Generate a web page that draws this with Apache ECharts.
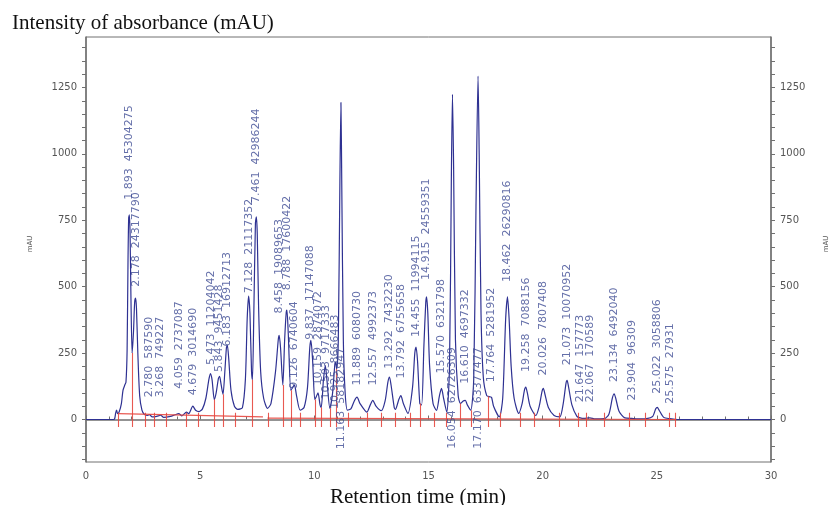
<!DOCTYPE html>
<html>
<head>
<meta charset="utf-8">
<script src="https://cdn.jsdelivr.net/npm/echarts@6/dist/echarts.min.js"></script>
<style>
html,body{margin:0;padding:0;background:#fff;}
#chart{width:831px;height:505px;}
</style>
</head>
<body>
<div id="chart"></div>
<script>
// ---- Data ----
const xTicks = [0, 5, 10, 15, 20, 25, 30];
const yTickLabels = [0, 250, 500, 750, 1000, 1250];
const yMinorTicks = [-150,-100,-50,0,50,100,150,200,250,300,350,400,450,500,550,600,650,700,750,800,850,900,950,1000,1050,1100,1150,1200,1250,1300,1350,1400];

// detector trace (retention time in min, absorbance in mAU)
const traceTime = [0,1.15,1.25,1.3,1.34,1.38,1.45,1.55,1.62,1.7,1.75,1.8,1.84,1.87,1.9,1.93,1.97,2.02,2.08,2.13,2.17,2.21,2.27,2.35,2.45,2.55,2.7,2.78,2.9,3.1,3.27,3.4,3.7,3.9,4.06,4.2,4.4,4.5,4.68,4.8,4.95,5.1,5.25,5.38,5.45,5.52,5.62,5.7,5.8,5.85,5.92,6.0,6.08,6.15,6.19,6.25,6.35,6.5,6.65,6.85,6.98,7.06,7.12,7.18,7.25,7.29,7.35,7.42,7.46,7.5,7.56,7.65,7.78,7.95,8.1,8.3,8.42,8.46,8.52,8.62,8.7,8.77,8.8,8.86,8.97,9.05,9.13,9.22,9.38,9.55,9.7,9.8,9.85,9.92,10.02,10.08,10.16,10.25,10.3,10.4,10.48,10.55,10.68,10.8,10.9,10.93,10.98,11.05,11.12,11.165,11.2,11.27,11.35,11.45,11.6,11.75,11.87,12.0,12.3,12.45,12.56,12.7,12.93,13.1,13.22,13.29,13.36,13.5,13.55,13.7,13.79,13.9,14.1,14.3,14.4,14.455,14.52,14.62,14.7,14.8,14.88,14.915,14.97,15.05,15.2,15.35,15.48,15.57,15.66,15.8,15.92,16.0,16.05,16.1,16.18,16.3,16.4,16.52,16.61,16.7,16.85,16.98,17.08,17.17,17.22,17.3,17.4,17.55,17.7,17.76,17.85,18.1,18.25,18.38,18.46,18.53,18.62,18.75,18.95,19.1,19.2,19.26,19.33,19.45,19.7,19.85,19.97,20.03,20.1,20.25,20.5,20.75,20.9,21.02,21.07,21.13,21.28,21.5,21.65,21.8,22.07,22.3,22.7,22.9,23.05,23.13,23.2,23.35,23.6,23.9,24.3,24.8,24.95,25.02,25.1,25.3,25.57,25.8,26,30];
const traceMAU  = [0,0,2,25,35,22,28,60,110,130,140,260,600,760,770,700,450,250,330,440,457,420,250,90,35,20,15,18,10,12,16,8,12,18,22,14,28,22,50,35,30,40,80,150,173,150,75,100,155,162,130,95,180,270,280,230,110,50,38,45,150,380,465,400,180,150,400,740,763,700,420,180,80,42,60,180,300,317,270,130,300,405,412,320,110,120,130,90,35,45,120,270,298,230,75,85,100,55,45,150,204,150,42,100,210,216,190,300,900,1193,900,300,100,35,40,70,84,60,28,55,72,50,33,70,140,160,130,45,38,75,90,60,23,120,250,273,220,60,55,280,440,462,400,200,60,34,90,117,80,28,200,900,1224,950,300,90,60,70,72,55,35,150,800,1293,1000,400,160,90,85,84,50,10,80,380,462,380,200,80,23,60,110,122,100,50,15,50,105,117,95,45,15,10,60,135,147,125,55,12,6,4,6,2,3,20,80,97,80,30,6,4,2,10,40,46,35,8,3,1,0,0];

// integrated peaks
const peakTimes = ['1.893','2.178','2.780','3.268','4.059','4.679','5.473','5.843','6.183','7.128','7.461','8.458','8.788','9.126','9.837','10.159','10.503','10.925','11.163','11.889','12.557','13.292','13.792','14.455','14.915','15.570','16.054','16.610','17.170','17.764','18.462','19.258','20.026','21.073','21.647','22.067','23.134','23.904','25.022','25.575'];
const peakAreas = ['45304275','24317790','587590','749227','2737087','3014690','11204042','9451428','16912713','21117352','42986244','19089653','17600422','6740604','17147088','2874072','9717333','8666483','58182947','6080730','4992373','7432230','6755658','11994115','24559351','6321798','62726309','4697332','63377477','5281952','26290816','7088156','7807408','10070952','157773','170589','6492040','96309','3058806','27931'];
// absorbance level (mAU) where each peak label begins
const labelStart = [827,500,84,84,116,91,205,179,275,475,815,399,487,116,300,128,75,40,-112,128,128,191,154,311,525,173,-110,135,-110,140,518,179,166,204,65,65,141,72,97,59];

// integration marks (red): short boundary ticks and drop lines up to valleys
const boundaryTimes = [1.42,2.6,2.97,3.5,4.37,4.9,6.55,7.98,9.4,11.5,12.32,12.93,13.55,14.2,15.26,15.78,18.14,19.0,19.65,20.72,21.58,21.89,22.68,23.79,24.49,25.54,25.82];
const dropTimes   = [2.02,5.62,6.0,7.29,8.62,8.97,10.02,10.3,10.68,10.98,14.62,16.4,16.88,17.6];
const dropHeights = [250,75,95,150,130,110,75,45,42,190,60,60,35,88];
const baselineFrom = [[1.42,22],[7.95,5]];
const baselineTo   = [[7.75,10],[25.85,0]];

// ---- Chart ----
const TRACE = '#2e3192';
const RED = '#e5473f';
const LABEL = '#3d4b94';
const AXIS = '#707070';

const traceData = traceTime.map((t, i) => [t, traceMAU[i]]);
const labelData = peakTimes.map((t, i) => ({
  value: [parseFloat(t), labelStart[i]],
  name: t + '  ' + peakAreas[i]
}));
const redLines = [];
boundaryTimes.forEach(t => redLines.push({coords: [[t, -28], [t, 25]]}));
dropTimes.forEach((t, i) => redLines.push({coords: [[t, -28], [t, dropHeights[i]]]}));
baselineFrom.forEach((p, i) => redLines.push({coords: [p, baselineTo[i]]}));

const yAxisBase = (pos) => ({
  type: 'value', position: pos, min: -160, max: 1440,
  axisLine: {show: true, lineStyle: {color: AXIS, width: 1.5}},
  axisTick: {show: true, inside: false, length: 4, customValues: yMinorTicks, lineStyle: {color: AXIS}},
  axisLabel: {show: true, customValues: yTickLabels, formatter: v => String(v), color: '#555', fontSize: 10, fontFamily: 'DejaVu Sans', margin: 9},
  splitLine: {show: false}
});

const chart = echarts.init(document.getElementById('chart'), null, {renderer: 'canvas'});
chart.setOption({
  animation: false,
  backgroundColor: '#fff',
  grid: {left: 86, right: 60, top: 37, bottom: 43, show: true, borderColor: AXIS, borderWidth: 1},
  xAxis: {
    type: 'value', min: 0, max: 30, interval: 5,
    axisLine: {show: true, lineStyle: {color: AXIS, width: 1.5}},
    axisTick: {show: true, inside: true, length: 4, lineStyle: {color: AXIS}},
    minorTick: {show: true, splitNumber: 5, length: 3, lineStyle: {color: AXIS}},
    axisLabel: {color: '#555', fontSize: 10, fontFamily: 'DejaVu Sans', margin: 9, formatter: v => String(v)},
    splitLine: {show: false}
  },
  yAxis: [yAxisBase('left'), yAxisBase('right')],
  graphic: [
    {type: 'text', left: 12, top: 13, style: {text: 'Intensity of absorbance (mAU)', font: '21px "Liberation Serif"', fill: '#111'}},
    {type: 'text', x: 418, y: 497, style: {text: 'Retention time (min)', font: '21px "Liberation Serif"', fill: '#111', align: 'center', verticalAlign: 'middle'}},
    {type: 'text', x: 30, y: 244, rotation: Math.PI / 2, style: {text: 'mAU', font: '7px "DejaVu Sans"', fill: '#555', align: 'center', verticalAlign: 'middle'}},
    {type: 'text', x: 826, y: 244, rotation: Math.PI / 2, style: {text: 'mAU', font: '7px "DejaVu Sans"', fill: '#555', align: 'center', verticalAlign: 'middle'}}
  ],
  series: [
    {
      type: 'line', data: traceData, showSymbol: false, smooth: 0.25,
      lineStyle: {color: TRACE, width: 1.2}, z: 2
    },
    {
      type: 'lines', coordinateSystem: 'cartesian2d', data: redLines,
      lineStyle: {color: RED, width: 1.1, opacity: 0.9}, z: 3
    },
    {
      type: 'scatter', data: labelData, symbolSize: 0, z: 4,
      label: {
        show: true, position: [0, 0], rotate: 90, align: 'left', verticalAlign: 'middle',
        formatter: p => p.name, color: LABEL, fontSize: 11, fontFamily: 'DejaVu Sans'
      }
    }
  ]
});
</script>
</body>
</html>
